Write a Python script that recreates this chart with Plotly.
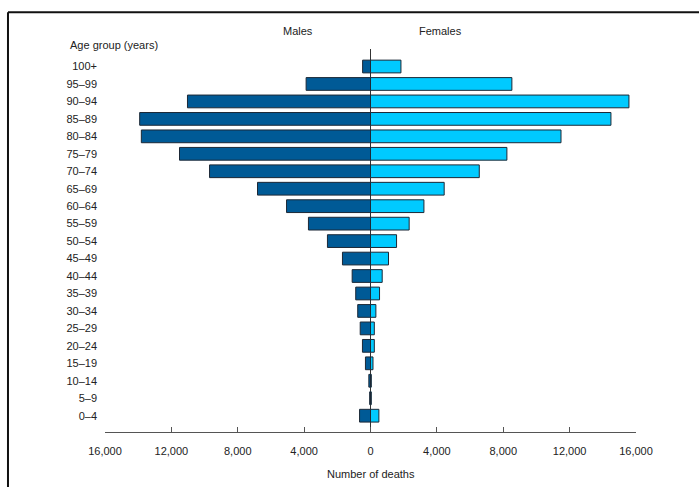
import plotly.graph_objects as go

age_groups = ["0–4", "5–9", "10–14", "15–19", "20–24", "25–29", "30–34", "35–39",
              "40–44", "45–49", "50–54", "55–59", "60–64", "65–69", "70–74", "75–79",
              "80–84", "85–89", "90–94", "95–99", "100+"]
males = [660, 50, 100, 305, 485, 620, 770, 890, 1105, 1690, 2595, 3740, 5060,
         6810, 9700, 11510, 13810, 13910, 11030, 3880, 475]
females = [505, 50, 50, 150, 230, 230, 325, 545, 705, 1085, 1570, 2330, 3220,
           4440, 6555, 8220, 11480, 14490, 15575, 8520, 1835]
tick_values = [-16000, -12000, -8000, -4000, 0, 4000, 8000, 12000, 16000]
tick_labels = [f"{abs(v):,}" for v in tick_values]

FONT = "Liberation Sans, Arial, sans-serif"
TXT = "#222222"
OUTLINE = "#1c2836"

fig = go.Figure()
fig.add_trace(go.Bar(
    y=age_groups, x=[-v for v in males], orientation="h", name="Males",
    marker=dict(color="#005a96", line=dict(color=OUTLINE, width=1)),
))
fig.add_trace(go.Bar(
    y=age_groups, x=females, orientation="h", name="Females",
    marker=dict(color="#00caff", line=dict(color=OUTLINE, width=1)),
))

fig.update_layout(
    width=699, height=487,
    margin=dict(l=105, r=63, t=49, b=55, pad=0),
    paper_bgcolor="white", plot_bgcolor="white",
    barmode="relative", bargap=0.27,
    showlegend=False,
    font=dict(family=FONT, size=11, color=TXT),
    xaxis=dict(
        range=[-16000, 16000], tickvals=tick_values, ticktext=tick_labels,
        showgrid=False, showline=True, linecolor="#555555", linewidth=1,
        ticks="inside", ticklen=5, tickcolor="#555555", ticklabelstandoff=9,
        zeroline=True, zerolinecolor="#333333", zerolinewidth=1,
        tickfont=dict(size=11, color=TXT), automargin=False,
        fixedrange=True,
    ),
    yaxis=dict(
        type="category", categoryorder="array", categoryarray=age_groups,
        range=[-0.934, 21.003], showgrid=False, showline=False, zeroline=False,
        ticks="", ticklabelstandoff=7, tickfont=dict(size=11, color=TXT),
        automargin=False, fixedrange=True,
    ),
    annotations=[
        dict(text="Males", x=-4340, xref="x", y=1.048, yref="paper",
             showarrow=False, xanchor="center", yanchor="middle",
             font=dict(size=11, color=TXT)),
        dict(text="Females", x=4220, xref="x", y=1.048, yref="paper",
             showarrow=False, xanchor="center", yanchor="middle",
             font=dict(size=11, color=TXT)),
        dict(text="Age group (years)", x=-0.0697, xref="paper", y=1.011, yref="paper",
             showarrow=False, xanchor="left", yanchor="middle",
             font=dict(size=11, color=TXT)),
        dict(text="Number of deaths", x=0, xref="x", y=-0.1097, yref="paper",
             showarrow=False, xanchor="center", yanchor="middle",
             font=dict(size=11, color=TXT)),
    ],
    shapes=[
        dict(type="line", xref="paper", yref="paper", x0=-0.1827, x1=1.2,
             y0=1.0958, y1=1.0958, line=dict(color="#111111", width=2), layer="below"),
        dict(type="line", xref="paper", yref="paper", x0=-0.1827, x1=-0.1827,
             y0=-0.25, y1=1.0958, line=dict(color="#111111", width=2), layer="below"),
    ],
)

fig.write_html(
    "out.html",
    config={"displayModeBar": False, "staticPlot": True},
    post_script="document.body.style.margin='0px';"
                "document.body.style.overflow='hidden';"
                "document.documentElement.style.overflow='hidden';",
)
